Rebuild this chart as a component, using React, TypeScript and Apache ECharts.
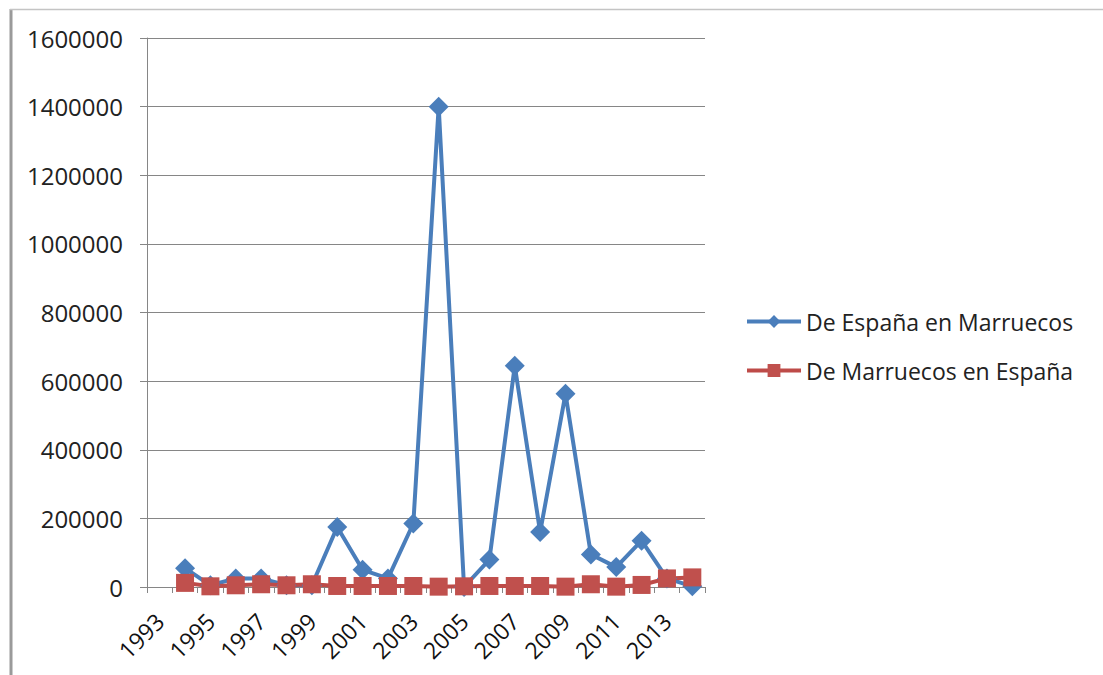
import React, { useEffect, useRef } from "react";
import * as echarts from "echarts";

const years = [
  "1993", "1994", "1995", "1996", "1997", "1998", "1999", "2000", "2001", "2002", "2003",
  "2004", "2005", "2006", "2007", "2008", "2009", "2010", "2011", "2012", "2013", "2014",
];
const espanaEnMarruecos = [
  null, 55000, 5000, 25000, 25000, 5000, 5000, 175000, 50000, 25000, 185000,
  1400000, 0, 80000, 645000, 160000, 563000, 95000, 58000, 135000, 25000, 2000,
];
const marruecosEnEspana = [
  null, 12000, 2000, 5000, 8000, 5000, 8000, 3000, 3000, 3000, 3000,
  1000, 2000, 3000, 3000, 3000, 1000, 8000, 1000, 6000, 25000, 28000,
];
const seriesNames = ["De España en Marruecos", "De Marruecos en España"];

const FONT = "Open Sans";

export default function App() {
  const ref = useRef<HTMLDivElement>(null);
  useEffect(() => {
    if (!ref.current) return;
    const chart = echarts.init(ref.current, null, { renderer: "svg" });
    chart.setOption({
      animation: false,
      backgroundColor: "#ffffff",
      textStyle: { fontFamily: FONT },
      graphic: [
        { type: "line", shape: { x1: 11, y1: 9, x2: 11, y2: 675 }, style: { stroke: "#9a9a9a", lineWidth: 3 } },
        { type: "line", shape: { x1: 10, y1: 9.5, x2: 1103, y2: 9.5 }, style: { stroke: "#c4c4c4", lineWidth: 1.5 } },
      ],
      grid: { left: 147, right: 398, top: 38, bottom: 88, containLabel: false },
      legend: {
        orient: "vertical",
        left: 740,
        top: 305,
        itemGap: 26,
        itemWidth: 54,
        itemHeight: 16,
        lineStyle: { width: 4 },
        textStyle: { fontFamily: FONT, fontSize: 23, color: "#222" },
        data: seriesNames,
      },
      xAxis: {
        type: "category",
        data: years,
        boundaryGap: true,
        axisLine: { lineStyle: { color: "#868686", width: 1 } },
        axisTick: { show: true, interval: 0, length: 6, lineStyle: { color: "#868686" } },
        axisLabel: {
          interval: 1,
          rotate: 45,
          margin: 30,
          fontFamily: FONT,
          fontSize: 23,
          color: "#111",
        },
        splitLine: { show: false },
      },
      yAxis: {
        type: "value",
        min: 0,
        max: 1600000,
        interval: 200000,
        axisLine: { show: true, lineStyle: { color: "#868686", width: 1 } },
        axisTick: { show: true, length: 7, lineStyle: { color: "#868686" } },
        axisLabel: {
          fontFamily: FONT,
          fontSize: 24,
          color: "#222",
          margin: 24,
          formatter: (v: number) => String(v),
        },
        splitLine: { lineStyle: { color: "#868686", width: 1 } },
      },
      series: [
        {
          name: seriesNames[0],
          type: "line",
          data: espanaEnMarruecos,
          symbol: "diamond",
          symbolSize: 20,
          showAllSymbol: true,
          lineStyle: { color: "#4a7ebb", width: 4 },
          itemStyle: { color: "#4a7ebb" },
        },
        {
          name: seriesNames[1],
          type: "line",
          data: marruecosEnEspana,
          symbol: "rect",
          symbolSize: 18,
          showAllSymbol: true,
          lineStyle: { color: "#be4b48", width: 4 },
          itemStyle: { color: "#c0504d" },
        },
      ],
    });
    return () => chart.dispose();
  }, []);
  return (
    <div
      ref={ref}
      style={{ position: "absolute", left: 0, top: 0, width: 1103, height: 675 }}
    />
  );
}
